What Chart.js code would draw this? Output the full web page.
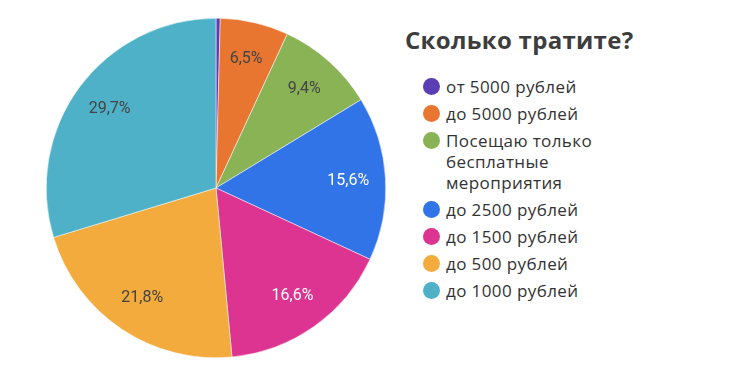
<!DOCTYPE html>
<html>
<head>
<meta charset="utf-8">
<script src="https://cdn.jsdelivr.net/npm/chart.js@4"></script>
<style>
  body { margin: 0; background: #fff; width: 740px; height: 388px; position: relative; overflow: hidden; }
  #wrap { position: absolute; left: 36px; top: 8px; width: 360px; height: 360px; }
  #title { position: absolute; left: 405px; top: 23px; font-family: "Open Sans", sans-serif; font-weight: 700; font-size: 24px; color: #3d3d3d; letter-spacing: 0.3px; }
  #legend { position: absolute; left: 423px; top: 76px; font-family: "Open Sans", sans-serif; font-size: 17px; letter-spacing: 0.4px; color: #333; }
  .item { position: relative; padding-left: 23px; line-height: 21px; margin-bottom: 6px; }
  .dot { position: absolute; left: 0; top: 2px; width: 17px; height: 17px; border-radius: 50%; }
</style>
</head>
<body>
<div id="wrap"><canvas id="pie"></canvas></div>
<div id="title">Сколько тратите?</div>
<div id="legend"></div>
<script>
const categories = ["от 5000 рублей", "до 5000 рублей", "Посещаю только бесплатные мероприятия", "до 2500 рублей", "до 1500 рублей", "до 500 рублей", "до 1000 рублей"];
const legendLines = [["от 5000 рублей"], ["до 5000 рублей"], ["Посещаю только", "бесплатные", "мероприятия"], ["до 2500 рублей"], ["до 1500 рублей"], ["до 500 рублей"], ["до 1000 рублей"]];
const shares = [0.4, 6.5, 9.4, 15.6, 16.6, 21.8, 29.7];
const colors = ["#5b3db4", "#e87530", "#8ab356", "#3174e8", "#dc3490", "#f2ab3c", "#4fb1c7"];
const labelColors = ["#444", "#444", "#444", "#fff", "#fff", "#444", "#444"];

// legend on the right
const legendDiv = document.getElementById("legend");
legendLines.forEach((lines, i) => {
  const div = document.createElement("div");
  div.className = "item";
  div.innerHTML = `<span class="dot" style="background:${colors[i]}"></span>` + lines.join("<br>");
  legendDiv.appendChild(div);
});

// percent labels inside slices
const sliceLabels = {
  id: "sliceLabels",
  afterDatasetsDraw(chart) {
    const ctx = chart.ctx;
    const meta = chart.getDatasetMeta(0);
    ctx.save();
    ctx.font = "16px Roboto";
    ctx.textAlign = "center";
    ctx.textBaseline = "middle";
    meta.data.forEach((arc, i) => {
      const v = shares[i];
      if (v < 1) return;
      const mid = (arc.startAngle + arc.endAngle) / 2;
      const r = arc.outerRadius * 0.78;
      ctx.fillStyle = labelColors[i];
      ctx.fillText(v.toFixed(1).replace(".", ",") + "%", arc.x + Math.cos(mid) * r, arc.y + Math.sin(mid) * r);
    });
    ctx.restore();
  }
};

new Chart(document.getElementById("pie").getContext("2d"), {
  type: "pie",
  data: {
    labels: categories,
    datasets: [{
      data: shares,
      backgroundColor: colors,
      borderColor: "#ffffff",
      borderWidth: 0.5
    }]
  },
  options: {
    responsive: true,
    maintainAspectRatio: false,
    animation: false,
    layout: { padding: 10 },
    plugins: {
      legend: { display: false },
      tooltip: { enabled: false }
    }
  },
  plugins: [sliceLabels]
});
</script>
</body>
</html>
